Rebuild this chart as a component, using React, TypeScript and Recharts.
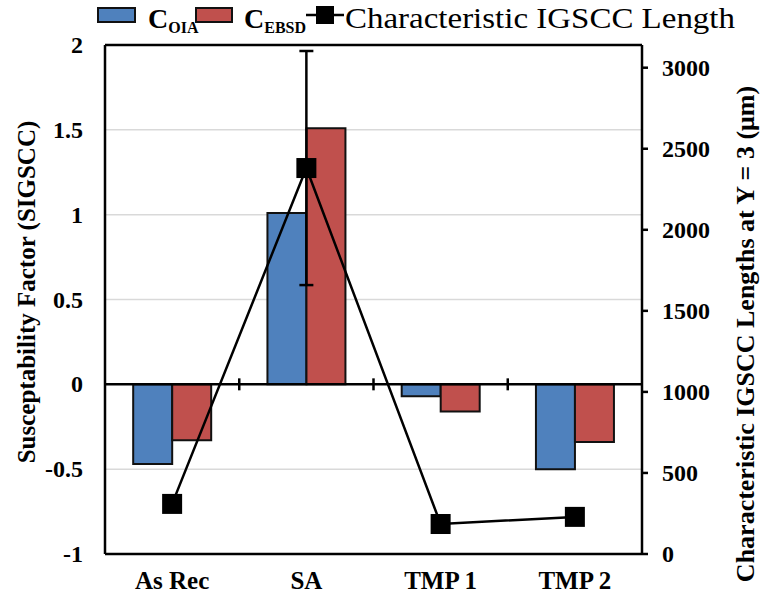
import React from 'react';
import { ComposedChart, Bar, Line, XAxis, YAxis, CartesianGrid, ReferenceLine, ErrorBar, Legend } from 'recharts';

const categories = ['As Rec', 'SA', 'TMP 1', 'TMP 2'];
const cOIA = [-0.47, 1.01, -0.07, -0.5];
const cEBSD = [-0.33, 1.51, -0.16, -0.34];
const igsccLength = [309, 2381, 185, 229];
const igsccError = [0, 722, 0, 0];
const leftTicks = [-1, -0.5, 0, 0.5, 1, 1.5, 2];
const rightTicks = [0, 500, 1000, 1500, 2000, 2500, 3000];

const data = categories.map((c, i) => ({
  name: c,
  oia: cOIA[i],
  ebsd: cEBSD[i],
  len: igsccLength[i],
  err: igsccError[i],
}));

const FONT = "'Liberation Serif', 'Times New Roman', Times, 'DejaVu Serif', serif";
const BLUE = '#4F81BD';
const RED = '#C0504D';

const ZeroAxis = (props: any) => {
  const { x1, x2, y1 } = props;
  const n = categories.length;
  const ticks: any[] = [];
  for (let i = 1; i < n; i++) {
    const x = x1 + ((x2 - x1) * i) / n;
    ticks.push(<line key={i} x1={x} x2={x} y1={y1 - 6} y2={y1 + 6} stroke="#000" strokeWidth={2.5} />);
  }
  return (
    <g>
      <line x1={x1} y1={y1} x2={x2} y2={y1} stroke="#000" strokeWidth={2.5} />
      {ticks}
    </g>
  );
};

const SquareDot = (props: any) => {
  const { cx, cy, index } = props;
  if (cx == null || cy == null) return <g key={index} />;
  return <rect key={index} x={cx - 10} y={cy - 10} width={20} height={20} fill="#000" />;
};

const CatTick = (props: any) => {
  const { x, y, payload } = props;
  return (
    <text x={x} y={y} dy={18} textAnchor="middle" fontWeight="bold" fontSize={25} fill="#000" style={{ fontFamily: FONT }}>
      {payload.value}
    </text>
  );
};

const LeftTick = (props: any) => {
  const { x, y, payload } = props;
  return (
    <text x={x} y={y} dy={8} textAnchor="end" fontWeight="bold" fontSize={24} fill="#000" style={{ fontFamily: FONT }}>
      {payload.value}
    </text>
  );
};

const RightTick = (props: any) => {
  const { x, y, payload } = props;
  return (
    <text x={x} y={y} dy={8} textAnchor="start" fontWeight="bold" fontSize={24} fill="#000" style={{ fontFamily: FONT }}>
      {payload.value}
    </text>
  );
};

const renderLegend = () => (
  <svg width={760} height={40} style={{ display: 'block', overflow: 'visible' }}>
    <g>
      <rect x={98} y={8} width={37} height={14} fill={BLUE} stroke="#111" strokeWidth={2} />
      <text x={148} y={28} fontSize={28} fontWeight="bold" fill="#000" style={{ fontFamily: FONT }}>
        C<tspan fontSize={16} dy={5}>OIA</tspan>
      </text>
      <rect x={196} y={8} width={36} height={14} fill={RED} stroke="#111" strokeWidth={2} />
      <text x={244} y={28} fontSize={28} fontWeight="bold" fill="#000" style={{ fontFamily: FONT }}>
        C<tspan fontSize={16} dy={5}>EBSD</tspan>
      </text>
      <line x1={306} x2={344} y1={15} y2={15} stroke="#000" strokeWidth={2.5} />
      <rect x={316} y={6} width={18} height={18} fill="#000" />
      <text
        x={345}
        y={28}
        fontSize={30}
        fill="#000"
        textLength={390}
        lengthAdjust="spacingAndGlyphs"
        style={{ fontFamily: FONT }}
      >
        Characteristic IGSCC Length
      </text>
    </g>
  </svg>
);

const LeftTitle = () => (
  <text
    transform="translate(26,292) rotate(-90)"
    textAnchor="middle"
    dominantBaseline="central"
    fontWeight="bold"
    fontSize={25}
    fill="#000"
    style={{ fontFamily: FONT }}
  >
    Susceptability Factor (SIGSCC)
  </text>
);

const RightTitle = () => (
  <text
    transform="translate(745,334) rotate(-90)"
    textAnchor="middle"
    dominantBaseline="central"
    fontWeight="bold"
    fontSize={26}
    fill="#000"
    style={{ fontFamily: FONT }}
  >
    Characteristic IGSCC Lengths at Y = 3  (μm)
  </text>
);

export default function App() {
  return (
    <div style={{ position: 'absolute', left: 0, top: 0, width: 760, height: 603, background: '#fff', fontFamily: FONT }}>
      <ComposedChart
        width={760}
        height={603}
        data={data}
        margin={{ top: 45, right: 0, bottom: 0, left: 0 }}
        barCategoryGap="21%"
        barGap={0}
      >
        <CartesianGrid yAxisId="left" vertical={false} stroke="#d9d9d9" strokeWidth={1.5} />
        <XAxis
          dataKey="name"
          height={49}
          tickLine={false}
          tickSize={6}
          tickMargin={11}
          axisLine={{ stroke: '#000', strokeWidth: 2.5 }}
          tick={<CatTick />}
        />
        <YAxis
          yAxisId="left"
          orientation="left"
          width={105}
          domain={[-1, 2]}
          ticks={leftTicks}
          tickLine={false}
          tickSize={6}
          tickMargin={16}
          axisLine={{ stroke: '#000', strokeWidth: 2.5 }}
          tick={<LeftTick />}
          label={<LeftTitle />}
        />
        <YAxis
          yAxisId="right"
          orientation="right"
          width={118}
          domain={[0, 3140]}
          ticks={rightTicks}
          tickLine={{ stroke: '#000', strokeWidth: 2.5 }}
          tickSize={6}
          tickMargin={14}
          axisLine={{ stroke: '#000', strokeWidth: 2.5 }}
          tick={<RightTick />}
          label={<RightTitle />}
        />
        <ReferenceLine yAxisId="left" y={2} stroke="#000" strokeWidth={2.5} />
        <Bar yAxisId="left" dataKey="oia" fill={BLUE} stroke="#111" strokeWidth={2} isAnimationActive={false} />
        <Bar yAxisId="left" dataKey="ebsd" fill={RED} stroke="#111" strokeWidth={2} isAnimationActive={false} />
        <ReferenceLine yAxisId="left" y={0} shape={<ZeroAxis />} />
        <Line
          yAxisId="right"
          dataKey="len"
          stroke="#000"
          strokeWidth={2.5}
          dot={<SquareDot />}
          activeDot={false}
          isAnimationActive={false}
        >
          <ErrorBar dataKey="err" direction="y" width={7} stroke="#000" strokeWidth={2.5} />
        </Line>
        <Legend
          verticalAlign="middle"
          layout="horizontal"
          wrapperStyle={{ top: 0, left: 0, width: 760, height: 40 }}
          content={renderLegend}
        />
      </ComposedChart>
    </div>
  );
}
